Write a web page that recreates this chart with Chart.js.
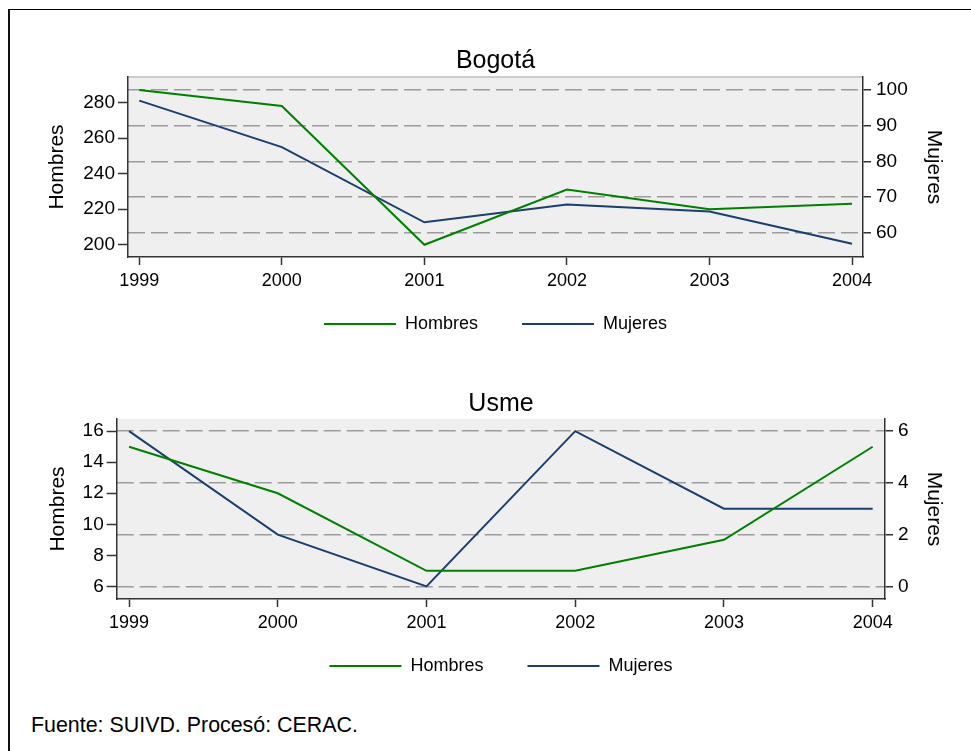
<!DOCTYPE html>
<html>
<head>
<meta charset="utf-8">
<title>Bogotá / Usme</title>
<script src="https://cdn.jsdelivr.net/npm/chart.js@4.4.1/dist/chart.umd.min.js"></script>
<style>
body { margin: 0; background: #fff; font-family: "Liberation Sans", Arial, sans-serif; }
#page { position: relative; width: 971px; height: 751px; overflow: hidden; }
#frame { position: absolute; left: 8px; top: 9px; width: 1000px; height: 1000px; border-left: 2px solid #111; border-top: 1px solid #000; }
canvas { position: absolute; left: 0; }
#c1 { top: 0; }
#c2 { top: 343px; }
#fuente { position: absolute; left: 31px; top: 713px; font-size: 21.4px; line-height: 25px; color: #000; white-space: nowrap; }
</style>
</head>
<body>
<div id="page">
	<div id="frame"></div>
	<canvas id="c1" width="971" height="343"></canvas>
	<canvas id="c2" width="971" height="342"></canvas>
	<div id="fuente">Fuente: SUIVD. Procesó: CERAC.</div>
</div>
<script>
// values
const years = [1999, 2000, 2001, 2002, 2003, 2004];
const bogotaHombres = [287, 278, 200, 231, 220, 223];
const bogotaMujeres = [97, 84, 63, 68, 66, 57];
const usmeHombres = [15, 12, 7, 7, 9, 15];
const usmeMujeres = [6, 2, 0, 6, 3, 3];

// tick labels
const bogotaHombresTicks = [200, 220, 240, 260, 280];
const bogotaMujeresTicks = [60, 70, 80, 90, 100];
const usmeHombresTicks = [6, 8, 10, 12, 14, 16];
const usmeMujeresTicks = [0, 2, 4, 6];

const GREEN = '#008000';
const NAVY = '#1a3f6e';
const AXIS = '#333';
const LEGEND_GAP = 44; // space between legend items (also used as row padding by chart.js)

Chart.defaults.font.family = '"Liberation Sans", Arial, sans-serif';
Chart.defaults.color = '#000';

// gray plot region (stata style), optional light top edge
const plotRegion = {
	id: 'plotRegion',
	beforeDraw(chart, args, opts) {
		const {ctx, chartArea: a} = chart;
		ctx.save();
		ctx.fillStyle = '#efefef';
		ctx.fillRect(a.left, a.top, a.right - a.left, a.bottom - a.top);
		if (opts.topLine) {
			ctx.strokeStyle = opts.topLine;
			ctx.lineWidth = 1.5;
			ctx.beginPath();
			ctx.moveTo(a.left, a.top);
			ctx.lineTo(a.right, a.top);
			ctx.stroke();
		}
		ctx.restore();
	}
};

// legend padding is wide (item spacing), so pull the legend row up a bit
const legendLift = {
	id: 'legendLift',
	afterLayout(chart, args, opts) {
		const lg = chart.legend;
		if (!lg || !opts.lift) return;
		lg.top -= opts.lift;
		lg.bottom -= opts.lift;
	}
};

function asPoints(vals) {
	return years.map((yr, i) => ({x: yr, y: vals[i]}));
}
function fixTicks(list) {
	return scale => { scale.ticks = list.map(v => ({value: v})); };
}

function drawPanel(canvasId, cfg) {
	const lift = LEGEND_GAP - 18;
	return new Chart(document.getElementById(canvasId), {
		type: 'line',
		data: {
			datasets: [
				{ label: 'Hombres', data: asPoints(cfg.hombres), yAxisID: 'yH', borderColor: GREEN, backgroundColor: GREEN, borderWidth: 2, pointRadius: 0, tension: 0 },
				{ label: 'Mujeres', data: asPoints(cfg.mujeres), yAxisID: 'yM', borderColor: NAVY, backgroundColor: NAVY, borderWidth: 2, pointRadius: 0, tension: 0 }
			]
		},
		options: {
			responsive: false,
			animation: false,
			devicePixelRatio: 1,
			events: [],
			layout: { padding: { left: cfg.padLeft, right: 0, top: 0, bottom: -lift } },
			scales: {
				x: {
					type: 'linear',
					min: cfg.xMin, max: cfg.xMax,
					afterBuildTicks: fixTicks(years),
					afterFit: s => { s.height = 40; },
					grid: { drawOnChartArea: false, tickLength: 8, tickColor: AXIS, tickWidth: 1.5 },
					border: { color: AXIS, width: 1.5 },
					ticks: { font: { size: 18 }, padding: 5, maxRotation: 0, autoSkip: false, callback: v => String(v) }
				},
				yH: {
					type: 'linear', position: 'left',
					min: cfg.hMin, max: cfg.hMax,
					afterBuildTicks: fixTicks(cfg.hTicks),
					afterFit: s => { s.width = cfg.leftWidth; },
					grid: { drawOnChartArea: false, tickLength: 10, tickColor: AXIS, tickWidth: 1.5 },
					border: { color: AXIS, width: 1.5 },
					ticks: { font: { size: 19 }, padding: 3 },
					title: { display: true, text: 'Hombres', font: { size: 21 }, padding: { top: cfg.leftTitlePad, bottom: 0 } }
				},
				yM: {
					type: 'linear', position: 'right',
					min: cfg.mMin, max: cfg.mMax,
					afterBuildTicks: fixTicks(cfg.mTicks),
					afterFit: s => { s.width = cfg.rightWidth; },
					grid: { drawOnChartArea: true, color: '#9c9c9c', lineWidth: 1.5, tickLength: 8, tickColor: AXIS, tickWidth: 1.5, tickBorderDash: [] },
					border: { color: AXIS, width: 1.5, dash: [17, 6] },
					ticks: { font: { size: 19 }, padding: 5 },
					title: { display: true, text: 'Mujeres', font: { size: 21 }, padding: { top: 25, bottom: 0 } }
				}
			},
			plugins: {
				plotRegion: { topLine: cfg.topLine },
				legendLift: { lift: lift },
				title: { display: true, text: cfg.title, font: { size: 25, weight: 'normal' }, color: '#000', padding: { top: 46, bottom: cfg.titleGap } },
				legend: {
					position: 'bottom',
					labels: { usePointStyle: true, pointStyle: 'line', pointStyleWidth: 72, padding: LEGEND_GAP, font: { size: 18 }, color: '#000' }
				},
				tooltip: { enabled: false }
			}
		},
		plugins: [plotRegion, legendLift]
	});
}

drawPanel('c1', {
	title: 'Bogotá',
	hombres: bogotaHombres, mujeres: bogotaMujeres,
	hTicks: bogotaHombresTicks, mTicks: bogotaMujeresTicks,
	hMin: 193.1, hMax: 294.3, mMin: 53.3, mMax: 103.6,
	xMin: 1998.921, xMax: 2004.077,
	padLeft: 20, leftWidth: 108, rightWidth: 108, leftTitlePad: 25,
	titleGap: 1, topLine: '#bdbdbd'
});

drawPanel('c2', {
	title: 'Usme',
	hombres: usmeHombres, mujeres: usmeMujeres,
	hTicks: usmeHombresTicks, mTicks: usmeMujeresTicks,
	hMin: 5.18, hMax: 16.79, mMin: -0.49, mMax: 6.47,
	xMin: 1998.917, xMax: 2004.083,
	padLeft: 31, leftWidth: 85.7, rightWidth: 86, leftTitlePad: 15,
	titleGap: 0, topLine: null
});
</script>
</body>
</html>
